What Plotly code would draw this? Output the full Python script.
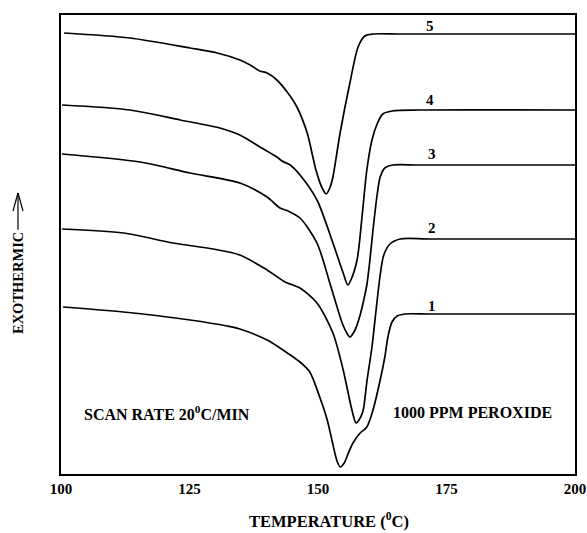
import plotly.graph_objects as go

# DSC scans, 1000 ppm peroxide, scan rate 20 C/min (arbitrary heat-flow units, curves offset)
t1 = [100.4, 112.1, 125.1, 132.3, 134.8, 140.1, 143.2, 146.5, 148.4, 150.4, 151.8, 152.7,
      153.7, 154.3, 155.1, 155.6, 156.8, 158.2, 159.5, 160.7, 162.1, 163.0, 163.6, 164.4,
      165.4, 166.9, 171.8, 200.0]
y1 = [167, 162, 154, 148, 145, 134, 124, 112, 102, 76, 54, 34,
      13, 7, 11, 17, 31, 41, 47, 64, 94, 117, 137, 152,
      158, 160, 160, 160]

t2 = [100.2, 112.1, 121.8, 129.6, 134.8, 140.1, 143.6, 145.1, 146.5, 149.8, 152.9, 154.9,
      156.6, 157.4, 158.2, 158.8, 159.5, 160.5, 161.3, 162.1, 162.8, 164.0, 166.0, 171.8, 200.0]
y2 = [245, 241, 231, 225, 219, 204, 192, 189, 186, 171, 141, 104,
      64, 51, 56, 64, 92, 127, 164, 199, 219, 230, 235, 235, 235]

t3 = [100.2, 115.4, 125.1, 134.8, 140.1, 142.6, 144.2, 146.5, 149.8, 152.3, 154.7, 155.6,
      156.2, 157.2, 158.2, 158.9, 159.5, 160.1, 160.7, 161.5, 162.1, 163.0, 164.6, 169.8, 200.0]
y3 = [320, 312, 301, 291, 277, 266, 263, 256, 231, 191, 151, 141,
      137, 144, 159, 174, 189, 214, 244, 279, 297, 306, 309, 309, 309]

t4 = [100.2, 113.4, 123.2, 130.9, 134.8, 138.7, 142.0, 143.0, 144.6, 146.5, 149.8, 152.9,
      154.9, 155.8, 156.4, 157.6, 158.6, 159.5, 160.5, 161.5, 162.6, 164.4, 169.8, 200.0]
y4 = [369, 364, 354, 346, 339, 327, 317, 313, 309, 299, 274, 231,
      201, 189, 194, 214, 259, 304, 334, 350, 360, 363, 364, 364]

t5 = [100.6, 113.4, 125.1, 130.4, 134.8, 136.8, 138.7, 140.1, 142.0, 144.0, 145.9, 147.9,
      149.0, 149.6, 150.8, 151.6, 152.3, 152.9, 154.3, 156.2, 157.8, 159.1, 160.7, 166.0, 200.0]
y5 = [441, 436, 426, 421, 414, 409, 403, 401, 394, 382, 367, 341,
      317, 304, 286, 280, 286, 297, 341, 391, 427, 438, 440, 440, 440]

curve_labels = ["1", "2", "3", "4", "5"]
label_x = [172.2, 172.2, 172.2, 171.8, 171.8]
label_y = [168, 246, 320, 374, 448]

FONT = "Liberation Serif"

fig = go.Figure()
for t, y in [(t1, y1), (t2, y2), (t3, y3), (t4, y4), (t5, y5)]:
    fig.add_trace(go.Scatter(x=t, y=y, mode="lines",
                             line=dict(color="black", width=1.7, shape="spline", smoothing=0.8),
                             showlegend=False, hoverinfo="skip"))

annotations = []
for lab, lx, ly in zip(curve_labels, label_x, label_y):
    annotations.append(dict(x=lx, y=ly, xref="x", yref="y", text=lab, showarrow=False,
                            font=dict(family=FONT, size=15, color="black", weight="bold")))

annotations += [
    dict(x=0.041, y=0.133, xref="paper", yref="paper", xanchor="left", yanchor="middle",
         text="SCAN RATE 20<sup>0</sup>C/MIN", showarrow=False,
         font=dict(family=FONT, size=16, color="black", weight="bold")),
    dict(x=0.642, y=0.133, xref="paper", yref="paper", xanchor="left", yanchor="middle",
         text="1000 PPM PEROXIDE", showarrow=False,
         font=dict(family=FONT, size=16, color="black", weight="bold")),
    dict(x=0.521, y=-0.102, xref="paper", yref="paper", xanchor="center", yanchor="middle",
         text="TEMPERATURE (<sup>0</sup>C)", showarrow=False,
         font=dict(family=FONT, size=16.5, color="black", weight="bold")),
    dict(x=-0.0837, y=0.416, xref="paper", yref="paper", xanchor="center", yanchor="middle",
         text="EXOTHERMIC", textangle=-90, showarrow=False,
         font=dict(family=FONT, size=14.5, color="black", weight="bold")),
]

# arrow next to the y-axis title
shapes = [
    dict(type="line", xref="paper", yref="paper", x0=-0.0837, x1=-0.0837, y0=0.532, y1=0.6122,
         line=dict(color="black", width=1.2)),
    dict(type="line", xref="paper", yref="paper", x0=-0.0934, x1=-0.0837, y0=0.5730, y1=0.6122,
         line=dict(color="black", width=1.2)),
    dict(type="line", xref="paper", yref="paper", x0=-0.0739, x1=-0.0837, y0=0.5730, y1=0.6122,
         line=dict(color="black", width=1.2)),
]

fig.update_layout(
    width=587, height=533,
    margin=dict(l=61, r=12, t=15, b=59, autoexpand=False),
    paper_bgcolor="white", plot_bgcolor="white",
    annotations=annotations, shapes=shapes,
    xaxis=dict(range=[100, 200], tickvals=[100, 125, 150, 175, 200], automargin=False,
               showgrid=False, zeroline=False, showline=True, mirror=True,
               linecolor="black", linewidth=2, ticks="", ticklen=0,
               tickfont=dict(family=FONT, size=15, color="black", weight="bold")),
    yaxis=dict(range=[0, 459], showticklabels=False, showgrid=False, zeroline=False,
               automargin=False, showline=True, mirror=True, linecolor="black",
               linewidth=2, ticks=""),
)

fig.write_html("out.html")
